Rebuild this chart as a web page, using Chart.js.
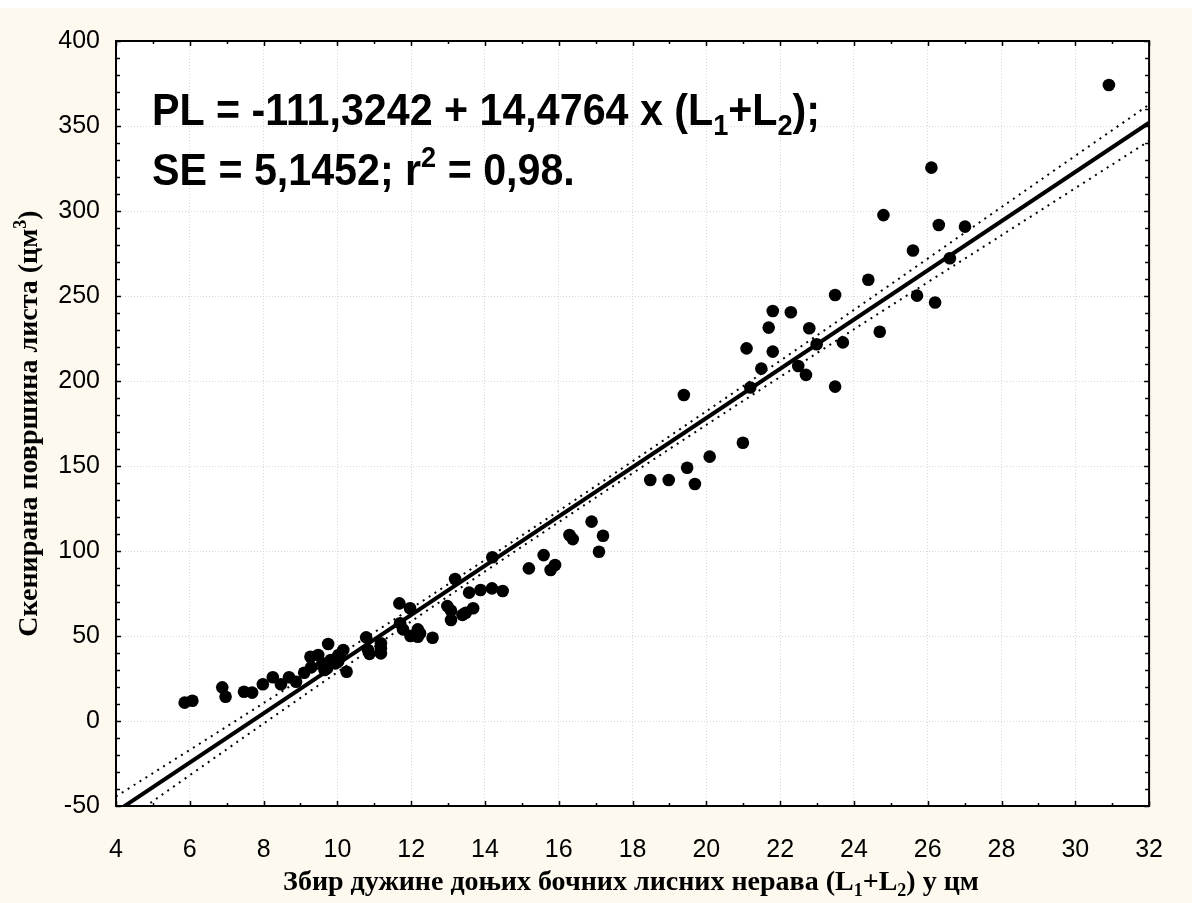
<!DOCTYPE html>
<html>
<head>
<meta charset="utf-8">
<script src="https://cdn.jsdelivr.net/npm/chart.js@4/dist/chart.umd.min.js"></script>
<style>
  html, body { margin: 0; padding: 0; background: #fff; }
  #wrap { width: 1192px; height: 903px; }
</style>
</head>
<body>
<div id="wrap"><canvas id="chart" width="1192" height="903"></canvas></div>
<script>
// ---------- data ----------
const leafSumX = [
  5.86, 6.07, 6.88, 6.97, 7.47, 7.69, 7.98, 8.25, 8.47, 8.69, 8.88, 9.10,
  9.27, 9.48, 9.29, 9.59, 9.72, 9.75, 10.03, 10.16, 10.02, 10.25, 10.08, 9.82,
  9.95, 9.65, 10.78, 10.83, 10.87, 11.18, 11.18, 11.18, 11.68, 11.97, 11.70, 11.78,
  11.98, 12.18, 12.24, 12.18, 12.58, 13.19, 12.98, 13.08, 13.08, 13.39, 13.48, 13.68,
  13.57, 13.88, 14.19, 14.48, 14.20, 15.19, 15.59, 15.78, 15.90, 16.29, 16.38, 16.89,
  17.20, 17.09, 18.48, 18.98, 19.48, 19.69, 20.09, 19.39, 20.99, 21.19, 21.09, 21.49,
  21.80, 21.69, 21.80, 22.29, 22.79, 22.49, 22.70, 22.99, 23.49, 23.70, 23.49, 24.39,
  24.70, 25.60, 25.71, 26.20, 26.60, 30.91, 26.10, 24.80, 26.30, 27.01
];
const leafAreaY = [
  10.8, 11.9, 19.8, 14.3, 17.2, 16.7, 21.6, 25.7, 21.6, 25.7, 23.1, 28.4,
  37.8, 38.8, 31.6, 33.9, 31.0, 45.3, 38.8, 41.8, 34.9, 29.0, 37.8, 35.9,
  33.9, 30.0, 49.2, 41.8, 39.5, 45.7, 42.8, 39.8, 69.2, 66.3, 57.5, 53.9,
  50.0, 53.9, 51.6, 49.6, 49.0, 83.5, 67.6, 64.9, 59.4, 62.4, 63.7, 66.3,
  75.5, 77.1, 78.0, 76.5, 96.3, 89.8, 97.6, 88.8, 91.8, 109.4, 107.0, 117.3,
  109.0, 99.6, 141.8, 141.8, 149.0, 139.4, 155.5, 191.8, 163.7, 196.2, 219.2, 207.3,
  217.3, 231.4, 241.2, 240.4, 231.0, 208.8, 203.6, 221.6, 250.6, 222.7, 196.7, 259.6,
  229.0, 276.8, 250.2, 246.2, 272.2, 374.1, 325.5, 297.6, 291.8, 290.8
];

// fitted line and its dotted band, read at a few x positions
const fitX = [4, 32];
const fitY = [-53.4, 351.9];
const bandX = [4, 8, 12, 16, 20, 24, 28, 32];
const bandUpper = [-44.4, 10.5, 66.2, 123.6, 182.2, 241.8, 302.3, 362.6];
const bandLower = [-62.4, -1.5, 58.6, 117.0, 174.2, 230.4, 285.7, 341.2];

const xTicks = { min: 4, max: 32, step: 2, minor: 1 };
const yTicks = { min: -50, max: 400, step: 50, minor: 10 };

const eqLine1 = [["PL = -111,3242 + 14,4764 x (L", ""], ["1", "sub"], ["+L", ""], ["2", "sub"], [");", ""]];
const eqLine2 = [["SE = 5,1452; r", ""], ["2", "sup"], [" = 0,98.", ""]];
const xTitle = [["Збир дужине доњих бочних лисних нерава (L", ""], ["1", "sub"], ["+L", ""], ["2", "sub"], [") у цм", ""]];
const yTitle = [["Скенирана површина листа (цм", ""], ["3", "sup"], [")", ""]];

// ---------- helpers ----------
const SANS = "'Liberation Sans', Arial, sans-serif";
const SERIF = "'Liberation Serif', 'Times New Roman', serif";

function partFont(kind, size, weight, family) {
  const s = kind ? Math.round(size * 0.65) : size;
  return `${weight} ${s}px ${family}`;
}

function richWidth(ctx, parts, size, weight, family) {
  let w = 0;
  parts.forEach(([t, kind]) => {
    ctx.font = partFont(kind, size, weight, family);
    w += ctx.measureText(t).width;
  });
  return w;
}

function drawRich(ctx, parts, x, y, size, weight, family) {
  let cx = x;
  parts.forEach(([t, kind]) => {
    ctx.font = partFont(kind, size, weight, family);
    let dy = 0;
    if (kind === "sub") dy = size * 0.22;
    if (kind === "sup") dy = -size * 0.4;
    ctx.fillText(t, cx, y + dy);
    cx += ctx.measureText(t).width;
  });
}

const pagePlugin = {
  id: "page",
  beforeDraw(chart) {
    const { ctx, chartArea: a } = chart;
    ctx.save();
    ctx.fillStyle = "#ffffff";
    ctx.fillRect(0, 0, chart.width, chart.height);
    ctx.fillStyle = "#fdf9ee";
    ctx.fillRect(0, 8, chart.width, chart.height - 8);
    ctx.fillStyle = "#ffffff";
    ctx.fillRect(a.left, a.top, a.right - a.left, a.bottom - a.top);
    ctx.restore();
  },
  afterDraw(chart) {
    const { ctx, chartArea: a, scales } = chart;
    ctx.save();
    ctx.strokeStyle = "#000";

    // inward tick marks on all four sides
    ctx.lineWidth = 1.5;
    ctx.beginPath();
    for (let v = xTicks.min; v <= xTicks.max + 1e-9; v += xTicks.minor) {
      const px = Math.round(scales.x.getPixelForValue(v)) + 0.5;
      const len = (v - xTicks.min) % xTicks.step === 0 ? 5 : 3;
      ctx.moveTo(px, a.bottom); ctx.lineTo(px, a.bottom - len);
      ctx.moveTo(px, a.top); ctx.lineTo(px, a.top + len);
    }
    for (let v = yTicks.min; v <= yTicks.max + 1e-9; v += yTicks.minor) {
      const py = Math.round(scales.y.getPixelForValue(v)) + 0.5;
      const len = (v - yTicks.min) % yTicks.step === 0 ? 5 : 4;
      ctx.moveTo(a.left, py); ctx.lineTo(a.left + len, py);
      ctx.moveTo(a.right, py); ctx.lineTo(a.right - len, py);
    }
    ctx.stroke();

    // frame
    ctx.lineWidth = 2;
    ctx.strokeRect(a.left, a.top, a.right - a.left, a.bottom - a.top);

    ctx.fillStyle = "#000";
    ctx.textBaseline = "alphabetic";

    // equation text (condensed bold sans)
    const eqSize = 44;
    const eqW = richWidth(ctx, eqLine1, eqSize, "bold", SANS);
    const squeeze = 668 / eqW;
    ctx.save();
    ctx.translate(a.left + 36, 0);
    ctx.scale(squeeze, 1);
    drawRich(ctx, eqLine1, 0, a.top + 84, eqSize, "bold", SANS);
    drawRich(ctx, eqLine2, 0, a.top + 144, eqSize, "bold", SANS);
    ctx.restore();

    // axis titles
    const tSize = 28;
    const xw = richWidth(ctx, xTitle, tSize, "bold", SERIF);
    drawRich(ctx, xTitle, 631 - xw / 2, 890, tSize, "bold", SERIF);

    const yw = richWidth(ctx, yTitle, tSize, "bold", SERIF);
    ctx.save();
    ctx.translate(37, (a.top + a.bottom) / 2);
    ctx.rotate(-Math.PI / 2);
    drawRich(ctx, yTitle, -yw / 2, 0, tSize, "bold", SERIF);
    ctx.restore();

    ctx.restore();
  },
};

const toPoints = (xs, ys) => xs.map((x, i) => ({ x, y: ys[i] }));

new Chart(document.getElementById("chart"), {
  type: "scatter",
  data: {
    datasets: [
      {
        label: "points",
        data: toPoints(leafSumX, leafAreaY),
        backgroundColor: "#000",
        borderColor: "#000",
        pointRadius: 6.3,
        pointBorderWidth: 0,
        order: 0,
      },
      {
        type: "line",
        label: "fit",
        data: toPoints(fitX, fitY),
        borderColor: "#000",
        borderWidth: 4,
        pointRadius: 0,
        fill: false,
        order: 1,
      },
      {
        type: "line",
        label: "upper",
        data: toPoints(bandX, bandUpper),
        borderColor: "#000",
        borderWidth: 2,
        borderDash: [2, 5],
        pointRadius: 0,
        tension: 0.3,
        fill: false,
        order: 2,
      },
      {
        type: "line",
        label: "lower",
        data: toPoints(bandX, bandLower),
        borderColor: "#000",
        borderWidth: 2,
        borderDash: [2, 5],
        pointRadius: 0,
        tension: 0.3,
        fill: false,
        order: 2,
      },
    ],
  },
  options: {
    responsive: false,
    animation: false,
    devicePixelRatio: 1,
    layout: { padding: { top: 41, right: 21, left: 0, bottom: 0 } },
    plugins: { legend: { display: false }, tooltip: { enabled: false } },
    scales: {
      x: {
        type: "linear",
        min: xTicks.min,
        max: xTicks.max,
        afterFit(s) { s.height = 97; },
        afterBuildTicks(s) {
          s.ticks = [];
          for (let v = xTicks.min; v <= xTicks.max; v += xTicks.step) s.ticks.push({ value: v });
        },
        ticks: { color: "#000", padding: 29, font: { family: SANS, size: 25 } },
        grid: { color: "#d8d8d8", lineWidth: 1, drawTicks: false },
        border: { display: false, dash: [1, 2] },
      },
      y: {
        type: "linear",
        min: yTicks.min,
        max: yTicks.max,
        afterFit(s) { s.width = 116; },
        afterBuildTicks(s) {
          s.ticks = [];
          for (let v = yTicks.min; v <= yTicks.max; v += yTicks.step) s.ticks.push({ value: v });
        },
        ticks: { color: "#000", padding: 16, font: { family: SANS, size: 25 } },
        grid: { color: "#d8d8d8", lineWidth: 1, drawTicks: false },
        border: { display: false, dash: [1, 2] },
      },
    },
  },
  plugins: [pagePlugin],
});
</script>
</body>
</html>
